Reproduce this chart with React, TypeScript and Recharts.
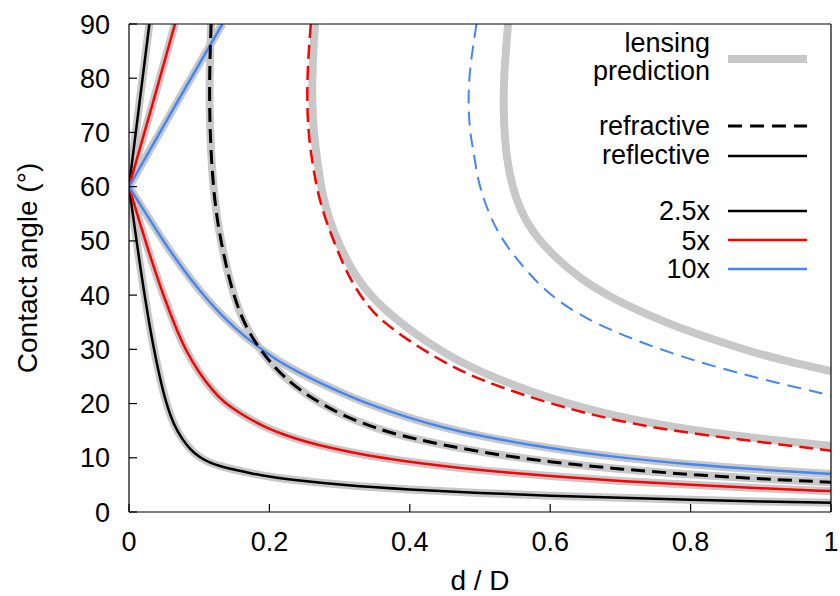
import { LineChart, Line, XAxis, YAxis } from 'recharts';

const X_TICKS = [0, 0.2, 0.4, 0.6, 0.8, 1];
const Y_TICKS = [0, 10, 20, 30, 40, 50, 60, 70, 80, 90];

// reflective solutions, [d/D, contact angle in degrees]
const refl25Up = [[0, 60], [0.0145, 75], [0.029, 90]];
const refl5Up = [[0, 60], [0.033, 75], [0.0655, 90]];
const refl10Up = [[0, 60], [0.066, 75], [0.133, 90]];

const refl25Low = [
  [0, 60], [0.0108, 50], [0.0163, 45], [0.0222, 40], [0.0285, 35], [0.0355, 30], [0.0435, 25],
  [0.053, 20], [0.064, 16], [0.077, 13.2], [0.087, 11.6], [0.1, 10.1], [0.115, 9.1],
  [0.13, 8.45], [0.15, 7.8], [0.175, 7.1], [0.2, 6.5], [0.25, 5.7], [0.3, 5.0], [0.4, 4.1],
  [0.5, 3.5], [0.6, 3.0], [0.7, 2.6], [0.8, 2.25], [0.9, 1.95], [1, 1.7],
];
const refl5Low = [
  [0, 60], [0.0185, 52], [0.028, 48.1], [0.037, 44.5], [0.05, 39.6], [0.066, 34.2], [0.08, 30],
  [0.1, 25.6], [0.12, 22.3], [0.134, 20.4], [0.15, 18.9], [0.172, 17.1], [0.2, 15.3],
  [0.22, 14.3], [0.25, 13], [0.29, 11.7], [0.34, 10.4], [0.386, 9.5], [0.45, 8.4], [0.5, 7.7],
  [0.6, 6.6], [0.7, 5.7], [0.8, 5.0], [0.9, 4.35], [1, 3.85],
];
const refl10Low = [
  [0, 60], [0.018, 56.3], [0.035, 52.8], [0.055, 48.8], [0.077, 44.8], [0.1, 40.9], [0.125, 37.2],
  [0.15, 34], [0.182, 30.6], [0.21, 28], [0.244, 25.6], [0.28, 23.3], [0.315, 21.3],
  [0.35, 19.5], [0.4, 17.3], [0.45, 15.5], [0.5, 14.0], [0.6, 11.7], [0.7, 10.0], [0.8, 8.75],
  [0.9, 7.8], [1, 7.0],
];

// refractive solutions
const refr25 = [
  [0.117, 90], [0.1148, 82], [0.1147, 74], [0.1165, 67], [0.12, 60], [0.1255, 54], [0.131, 50],
  [0.139, 45], [0.149, 40], [0.163, 35], [0.182, 30.8], [0.2, 27.8], [0.22, 25], [0.25, 21.8],
  [0.3, 18], [0.35, 15.5], [0.4, 13.6], [0.5, 11], [0.6, 9.2], [0.7, 7.9], [0.8, 6.9],
  [0.9, 6.1], [1, 5.5],
];
const refr5 = [
  [0.259, 90], [0.2548, 83], [0.2535, 76], [0.2555, 70], [0.2605, 65], [0.267, 60], [0.277, 55],
  [0.29, 50.5], [0.305, 45.7], [0.32, 41.8], [0.34, 38], [0.36, 35.2], [0.405, 31], [0.45, 27.5],
  [0.5, 24.3], [0.6, 19.9], [0.7, 16.6], [0.8, 14.5], [0.9, 12.9], [1, 11.3],
];
const refr10 = [
  [0.495, 90], [0.4855, 82], [0.483, 76], [0.4855, 70], [0.4905, 66.8], [0.496, 62],
  [0.5024, 58.8], [0.513, 55], [0.524, 52], [0.54, 48.7], [0.557, 45.9], [0.595, 40.3],
  [0.652, 35.4], [0.737, 30.8], [0.832, 26.8], [0.927, 23.7], [1, 21.5],
];

// lensing prediction where it departs from the refractive curves
const lens5 = [
  [0.265, 90], [0.2615, 83], [0.2605, 76], [0.263, 70], [0.268, 65], [0.2745, 59], [0.285, 54],
  [0.297, 50], [0.315, 45.2], [0.335, 41.3], [0.358, 38], [0.4, 33.5], [0.45, 29.2], [0.5, 25.8],
  [0.6, 20.8], [0.7, 17.4], [0.8, 15.1], [0.9, 13.5], [1, 12.2],
];
const lens10 = [
  [0.54, 90], [0.5335, 80], [0.5335, 72], [0.538, 65], [0.546, 60], [0.558, 55.5], [0.574, 51.8],
  [0.6, 47.8], [0.642, 43], [0.69, 39.3], [0.74, 36.3], [0.785, 33.9], [0.84, 31.5],
  [0.885, 29.6], [0.94, 27.7], [1, 26],
];

const FONT = '"Liberation Sans", Arial, Helvetica, sans-serif';
const FS = 27;
const GRAY = '#c8c8c8';
const RED = '#ff0000';
const BLUE = '#4287f5';

const toPts = (rows: number[][]) => rows.map(([x, y]) => ({ x, y }));

type Series = { id: string; rows: number[][]; color: string; width: number; dash?: string; curve: any };

const lensing: Series[] = [
  { id: 'l25u', rows: refl25Up, color: GRAY, width: 8, curve: 'linear' },
  { id: 'l5u', rows: refl5Up, color: GRAY, width: 8, curve: 'linear' },
  { id: 'l10u', rows: refl10Up, color: GRAY, width: 8, curve: 'linear' },
  { id: 'l25l', rows: refl25Low, color: GRAY, width: 8, curve: 'basis' },
  { id: 'l5l', rows: refl5Low, color: GRAY, width: 8, curve: 'basis' },
  { id: 'l10l', rows: refl10Low, color: GRAY, width: 8, curve: 'basis' },
  { id: 'l25r', rows: refr25, color: GRAY, width: 8, curve: 'basis' },
  { id: 'l5r', rows: lens5, color: GRAY, width: 8, curve: 'basis' },
  { id: 'l10r', rows: lens10, color: GRAY, width: 8, curve: 'basis' },
];

const models: Series[] = [
  { id: 'r25u', rows: refl25Up, color: '#000', width: 2.5, curve: 'linear' },
  { id: 'r5u', rows: refl5Up, color: RED, width: 2.5, curve: 'linear' },
  { id: 'r10u', rows: refl10Up, color: BLUE, width: 2.5, curve: 'linear' },
  { id: 'r25l', rows: refl25Low, color: '#000', width: 2.5, curve: 'basis' },
  { id: 'r5l', rows: refl5Low, color: RED, width: 2.5, curve: 'basis' },
  { id: 'r10l', rows: refl10Low, color: BLUE, width: 2.5, curve: 'basis' },
  { id: 'f25', rows: refr25, color: '#000', width: 3, dash: '14 7', curve: 'basis' },
  { id: 'f5', rows: refr5, color: RED, width: 2.5, dash: '14 7', curve: 'basis' },
  { id: 'f10', rows: refr10, color: BLUE, width: 2, dash: '14 8', curve: 'basis' },
];

const tickStyle = { fill: '#000', fontSize: FS, fontFamily: FONT };

function Key() {
  const x0 = 728;
  const x1 = 807;
  const label = (y: number, s: string) => (
    <text x={710} y={y} textAnchor="end" fontFamily={FONT} fontSize={FS} fill="#000">{s}</text>
  );
  return (
    <g>
      {label(52, 'lensing')}
      {label(80, 'prediction')}
      <line x1={x0} x2={x1} y1={59} y2={59} stroke={GRAY} strokeWidth={8} />
      {label(135, 'refractive')}
      <line x1={x0} x2={x1} y1={126} y2={126} stroke="#000" strokeWidth={3} strokeDasharray="14 8" />
      {label(164, 'reflective')}
      <line x1={x0} x2={x1} y1={156} y2={156} stroke="#000" strokeWidth={2.5} />
      {label(220, '2.5x')}
      <line x1={x0} x2={x1} y1={211} y2={211} stroke="#000" strokeWidth={2.5} />
      {label(250, '5x')}
      <line x1={x0} x2={x1} y1={240} y2={240} stroke={RED} strokeWidth={2.5} />
      {label(278, '10x')}
      <line x1={x0} x2={x1} y1={269} y2={269} stroke={BLUE} strokeWidth={2.5} />
    </g>
  );
}

export default function App() {
  const render = (s: Series) => (
    <Line
      key={s.id}
      data={toPts(s.rows)}
      dataKey="y"
      type={s.curve}
      stroke={s.color}
      strokeWidth={s.width}
      strokeDasharray={s.dash}
      dot={false}
      activeDot={false}
      isAnimationActive={false}
    />
  );

  return (
    <div style={{ position: 'absolute', left: 0, top: 0, background: '#fff' }}>
      <LineChart width={840} height={596} margin={{ top: 23, right: 8, bottom: 24, left: 29 }}>
        <XAxis
          dataKey="x"
          type="number"
          domain={[0, 1]}
          ticks={X_TICKS}
          allowDataOverflow
          height={60}
          tickSize={-8}
          tickMargin={28}
          axisLine={{ stroke: '#000', strokeWidth: 1.2 }}
          tickLine={{ stroke: '#000', strokeWidth: 1.2 }}
          tick={tickStyle}
        />
        <XAxis
          xAxisId="top"
          orientation="top"
          dataKey="x"
          type="number"
          domain={[0, 1]}
          ticks={X_TICKS}
          allowDataOverflow
          height={1}
          tickSize={-8}
          axisLine={{ stroke: '#000', strokeWidth: 1.2 }}
          tickLine={{ stroke: '#000', strokeWidth: 1.2 }}
          tick={false}
        />
        <YAxis
          type="number"
          domain={[0, 90]}
          ticks={Y_TICKS}
          allowDataOverflow
          width={100}
          tickSize={-8}
          tickMargin={27}
          axisLine={{ stroke: '#000', strokeWidth: 1.2 }}
          tickLine={{ stroke: '#000', strokeWidth: 1.2 }}
          tick={tickStyle}
        />
        <YAxis
          yAxisId="right"
          orientation="right"
          type="number"
          domain={[0, 90]}
          ticks={Y_TICKS}
          allowDataOverflow
          width={1}
          tickSize={-8}
          axisLine={{ stroke: '#000', strokeWidth: 1.2 }}
          tickLine={{ stroke: '#000', strokeWidth: 1.2 }}
          tick={false}
        />
        {lensing.map(render)}
        {models.map(render)}
        <Key />
        <text x={480} y={590} textAnchor="middle" fontFamily={FONT} fontSize={28} fill="#000">d / D</text>
        <text transform="translate(37,268) rotate(-90)" textAnchor="middle" fontFamily={FONT} fontSize={28} fill="#000">
          Contact angle (°)
        </text>
      </LineChart>
    </div>
  );
}
